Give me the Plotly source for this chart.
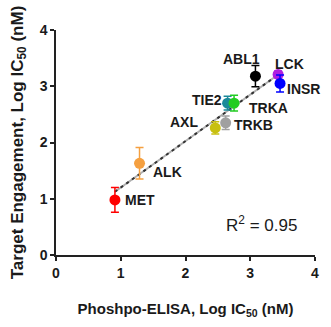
import numpy as np
import plotly.graph_objects as go

kinases = ["MET", "ALK", "AXL", "TRKB", "TIE2", "TRKA", "ABL1", "LCK", "INSR"]
elisa_log_ic50 = [0.91, 1.29, 2.46, 2.62, 2.65, 2.75, 3.08, 3.43, 3.46]
te_log_ic50 = [0.98, 1.63, 2.26, 2.35, 2.70, 2.70, 3.18, 3.21, 3.05]
te_err = [0.22, 0.28, 0.11, 0.12, 0.12, 0.14, 0.19, 0.06, 0.15]
colors = ["#ff0000", "#f5a040", "#c8c010", "#a0a0a0", "#1a8a9a",
          "#22cc22", "#000000", "#b020e0", "#0000ff"]
r2_text = "R<sup>2</sup> = 0.95"

# name label placement relative to each point (data units) and anchor
label_dx = [0.12, 0.17, -0.23, 0.10, -0.05, 0.20, -0.22, -0.08, 0.08]
label_dy = [0.00, -0.16, 0.11, -0.03, 0.05, -0.09, 0.30, 0.19, -0.10]
label_anchor = ["left", "left", "right", "left", "right", "left",
                "center", "left", "left"]

FONT = "Arial, Liberation Sans, sans-serif"
INK = "#1a1a1a"

fig = go.Figure()

# linear fit through the points, drawn as grey line with dark dashes on top
slope, intercept = np.polyfit(elisa_log_ic50, te_log_ic50, 1)
fx = np.array([min(elisa_log_ic50), max(elisa_log_ic50)])
fy = slope * fx + intercept
fig.add_trace(go.Scatter(x=fx, y=fy, mode="lines",
                         line=dict(color="#b0b0b0", width=2),
                         showlegend=False, hoverinfo="skip"))
fig.add_trace(go.Scatter(x=fx, y=fy, mode="lines",
                         line=dict(color="#333333", width=2, dash="3px,4px"),
                         showlegend=False, hoverinfo="skip"))

for i, k in enumerate(kinases):
    fig.add_trace(go.Scatter(
        x=[elisa_log_ic50[i]], y=[te_log_ic50[i]], mode="markers",
        marker=dict(color=colors[i], size=11),
        error_y=dict(type="data", array=[te_err[i]], color=colors[i],
                     thickness=1.5, width=4),
        showlegend=False, name=k))
    fig.add_annotation(x=elisa_log_ic50[i] + label_dx[i],
                       y=te_log_ic50[i] + label_dy[i],
                       text="<b>%s</b>" % k, showarrow=False,
                       xanchor=label_anchor[i], yanchor="middle",
                       font=dict(family=FONT, size=14, color=INK))

fig.add_annotation(x=3.75, y=0.56, text=r2_text, showarrow=False,
                   xanchor="right", yanchor="middle",
                   font=dict(family=FONT, size=17, color=INK))

axis_common = dict(range=[0, 4], tickvals=[0, 1, 2, 3, 4],
                   ticktext=["<b>%d</b>" % v for v in [0, 1, 2, 3, 4]],
                   showgrid=False, zeroline=False, showline=True,
                   linecolor="#222222", linewidth=1.5, ticks="outside",
                   ticklen=4, tickwidth=1.5, tickcolor="#222222",
                   tickfont=dict(family=FONT, size=14, color=INK))

fig.update_layout(
    width=331, height=327,
    margin=dict(l=56, r=15, t=30, b=70),
    plot_bgcolor="white", paper_bgcolor="white",
    xaxis=dict(**axis_common,
               title=dict(text="<b>Phoshpo-ELISA, Log IC<sub>50</sub> (nM)</b>",
                          font=dict(family=FONT, size=15, color=INK),
                          standoff=24)),
    yaxis=dict(**axis_common,
               title=dict(text="<b>Target Engagement, Log IC<sub>50</sub> (nM)</b>",
                          font=dict(family=FONT, size=17, color=INK),
                          standoff=12)),
)

fig.write_html("out.html")
